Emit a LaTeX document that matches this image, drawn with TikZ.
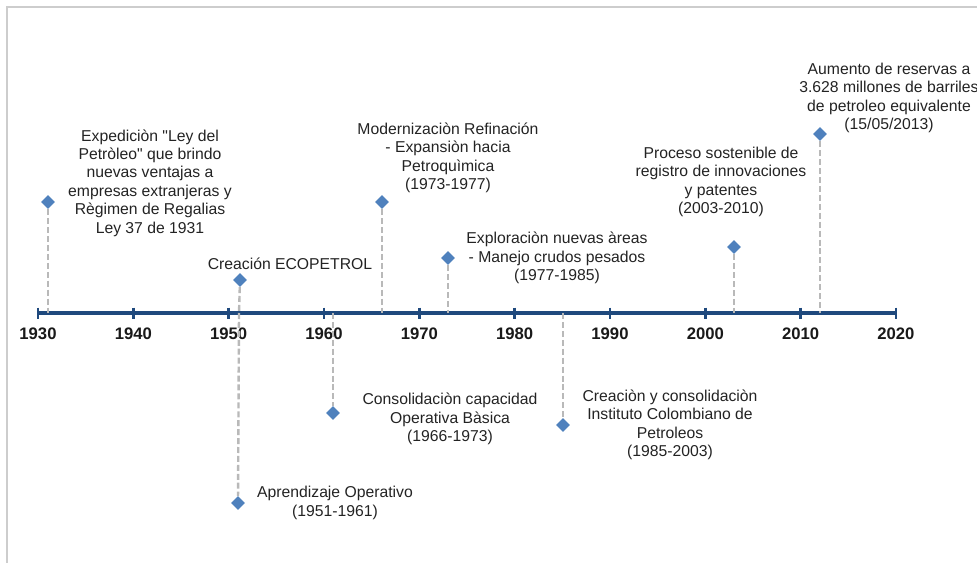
\documentclass[tikz,border=0pt]{standalone}
\usepackage{fontspec}
\setmainfont{Liberation Sans}
\usetikzlibrary{positioning, shapes.geometric, calc}
\definecolor{axisBlue}{RGB}{31,73,125}
\definecolor{markBlue}{RGB}{79,129,189}
\definecolor{stemGray}{RGB}{185,185,185}
\definecolor{frameGray}{RGB}{205,205,205}
\definecolor{textGray}{RGB}{35,35,35}

\begin{document}
\begin{tikzpicture}[
    x=0.75pt, y=-0.75pt,
    font=\fontsize{11.8}{13.8}\selectfont, text=textGray,
    event/.style={diamond, fill=markBlue, inner sep=0pt, minimum size=10.5pt},
    stem/.style={draw=stemGray, line width=1.8pt, dash pattern=on 4.5pt off 2.2pt},
    note/.style={align=center, inner sep=0pt},
    yearlbl/.style={font=\fontsize{12.5}{14}\selectfont\bfseries, text=black!90}
]
    \useasboundingbox (0,0) rectangle (977,563);
    \draw[frameGray, line width=0.8pt] (7,563) -- (7,7) -- (980,7);

    % time axis
    \coordinate (axis_start) at (38,313);
    \coordinate (axis_end) at (896,313);
    \draw[axisBlue, line width=2.5pt] (axis_start) -- (axis_end);
    \foreach \yr [count=\i from 0] in {1930,1940,...,2020} {
        \coordinate (tick_\yr) at ({38+95.33*\i},313);
        \draw[axisBlue, line width=1.8pt] ($(tick_\yr)+(0,-5.5)$) -- ($(tick_\yr)+(0,5.5)$);
        \node[yearlbl] (lbl_\yr) at ({38+95.33*\i},334) {\yr};
    }

    % points on the axis
    \coordinate (ax_1931) at (48,313);
    \coordinate (ax_1951) at (239,313);
    \coordinate (ax_1961) at (333,313);
    \coordinate (ax_1966) at (382,313);
    \coordinate (ax_1973) at (448,313);
    \coordinate (ax_1985) at (563,313);
    \coordinate (ax_2003) at (734,313);
    \coordinate (ax_2012) at (820,313);

    % events above the axis
    \node[event] (ev_1931) at (48,202) {};
    \node[note] (txt_1931) at (150,183) {Expediciòn \textquotedbl Ley del\\Petròleo\textquotedbl{} que brindo\\nuevas ventajas a\\empresas extranjeras y\\Règimen de Regalias\\Ley 37 de 1931};
    \node[event] (ev_1951) at (240,280) {};
    \node[note] (txt_1951) at (290,264) {Creación ECOPETROL};
    \node[event] (ev_1966) at (382,202) {};
    \node[note] (txt_1966) at (448,158) {Modernizaciòn Refinación\\- Expansiòn hacia\\Petroquìmica\\(1973-1977)};
    \node[event] (ev_1973) at (448,258) {};
    \node[note] (txt_1973) at (557,258) {Exploraciòn nuevas àreas\\- Manejo crudos pesados\\(1977-1985)};
    \node[event] (ev_2003) at (734,247) {};
    \node[note] (txt_2003) at (721,182) {Proceso sostenible de\\registro de innovaciones\\y patentes\\(2003-2010)};
    \node[event] (ev_2012) at (820,134) {};
    \node[note] (txt_2012) at (889,98) {Aumento de reservas a\\3.628 millones de barriles\\de petroleo equivalente\\(15/05/2013)};

    % events below the axis
    \node[event] (ev_1951b) at (238,503) {};
    \node[note] (txt_1951b) at (335,503) {Aprendizaje Operativo\\(1951-1961)};
    \node[event] (ev_1961) at (333,413) {};
    \node[note] (txt_1961) at (450,419) {Consolidaciòn capacidad\\Operativa Bàsica\\(1966-1973)};
    \node[event] (ev_1985) at (563,425) {};
    \node[note] (txt_1985) at (670,425) {Creaciòn y consolidaciòn\\Instituto Colombiano de\\Petroleos\\(1985-2003)};

    % stems
    \draw[stem] (ev_1931) -- (ax_1931);
    \draw[stem] (ev_1951) -- (ax_1951);
    \draw[stem] (ev_1966) -- (ax_1966);
    \draw[stem] (ev_1973) -- (ax_1973);
    \draw[stem] (ev_2003) -- (ax_2003);
    \draw[stem] (ev_2012) -- (ax_2012);
    \draw[stem] (ax_1951) -- (ev_1951b);
    \draw[stem] (ax_1961) -- (ev_1961);
    \draw[stem] (ax_1985) -- (ev_1985);
\end{tikzpicture}
\end{document}
